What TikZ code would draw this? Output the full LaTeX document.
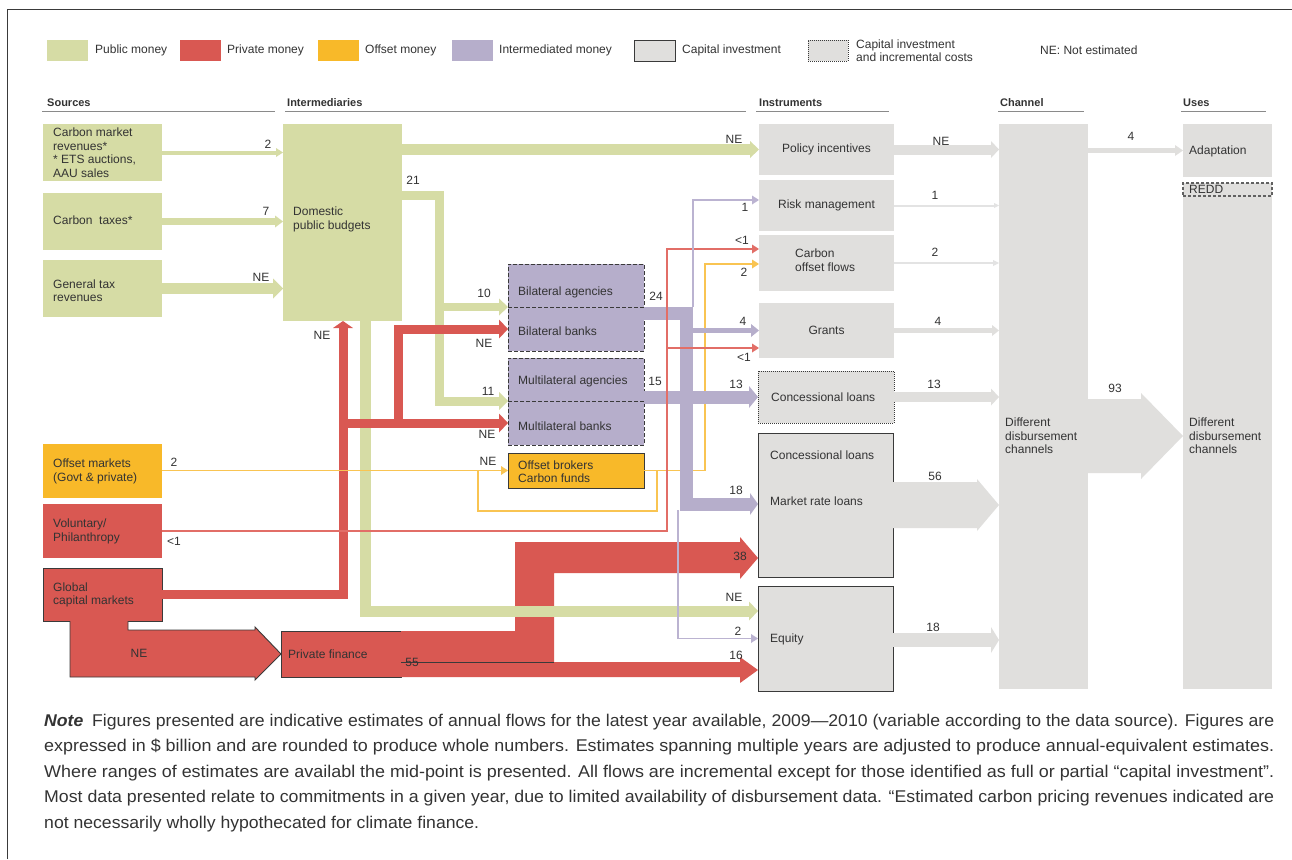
\documentclass[tikz,border=0pt]{standalone}
\usepackage{fontspec}
\setmainfont{Liberation Sans}
\usepackage{graphicx}
\usetikzlibrary{arrows.meta}
\definecolor{cg}{HTML}{D6DCA5}
\definecolor{cr}{HTML}{D95852}
\definecolor{co}{HTML}{F8B929}
\definecolor{cp}{HTML}{B6AECB}
\definecolor{cgr}{HTML}{E0DFDD}
\definecolor{crl}{HTML}{E26E67}
\definecolor{col}{HTML}{F9C452}
\definecolor{cpl}{HTML}{BBB3D1}
\definecolor{cgrl}{HTML}{E3E3E3}
\definecolor{txt}{HTML}{333333}
\definecolor{bd}{HTML}{3A3A3A}
\definecolor{hl}{HTML}{8A8A8A}
\tikzset{
  hd/.style 2 args={-{Triangle[length=#1pt,width=#2pt,line width=0pt]}},
  bx/.style 2 args={anchor=north west, minimum width=#1pt, minimum height=#2pt, inner sep=0pt, outer sep=0pt},
  tl/.style={anchor=west, inner sep=0pt, align=left},
  lb/.style={inner sep=0pt, anchor=center},
  hdr/.style={anchor=base west, inner sep=0pt, font=\fontsize{11pt}{13pt}\selectfont\bfseries},
  hline/.style={draw=hl, line width=1.5pt},
  dsh/.style={draw=bd, line width=0.9pt, dash pattern=on 4pt off 2pt},
  sld/.style={draw=bd, line width=0.9pt},
  notefont/.style={anchor=base west, inner sep=0pt, font=\fontsize{17pt}{20pt}\selectfont},
}
\begin{document}
\begin{tikzpicture}[x=1pt,y=-1pt, every node/.style={font=\fontsize{12pt}{13.5pt}\selectfont, text=txt}]
\useasboundingbox (0,0) rectangle (1292,859);
\fill[white] (0,0) rectangle (1292,859);
\draw[bd, line width=1pt] (7,859) -- (7,10) -- (1292,10);

% legend
\node[bx={41}{21}, fill=cg] (lgpub) at (47,40) {};
\node[tl] (lgpubt) at (95,50.5) {Public money};
\node[bx={41}{21}, fill=cr] (lgpri) at (180,40) {};
\node[tl] (lgprit) at (227,50.5) {Private money};
\node[bx={41}{21}, fill=co] (lgoff) at (318,40) {};
\node[tl] (lgofft) at (365,50.5) {Offset money};
\node[bx={41}{21}, fill=cp] (lgint) at (452,40) {};
\node[tl] (lgintt) at (499,50.5) {Intermediated money};
\node[bx={41}{21}, fill=cgr, sld] (lgcap) at (634,40) {};
\node[tl] (lgcapt) at (682,50.5) {Capital investment};
\node[bx={40}{21}, fill=cgr, draw=bd, line width=0.8pt, dash pattern=on 1pt off 1pt] (lginc) at (808,40) {};
\node[tl] (lginct) at (856,50.5) {Capital investment\\and incremental costs};
\node[tl] (lgne) at (1040,50.5) {NE: Not estimated};

% headers
\node[hdr] (hsrc) at (47,106) {Sources};
\node[hdr] (hint) at (287,106) {Intermediaries};
\node[hdr] (hins) at (759,106) {Instruments};
\node[hdr] (hchn) at (1000,106) {Channel};
\node[hdr] (huse) at (1183,106) {Uses};
\draw[hline] (42,111.5) -- (275,111.5);
\draw[hline] (285,111.5) -- (746,111.5);
\draw[hline] (756,111.5) -- (889,111.5);
\draw[hline] (998,111.5) -- (1084,111.5);
\draw[hline] (1181,111.5) -- (1266,111.5);

% boxes
\node[bx={119}{57}, fill=cg] (cmr) at (43,124) {};
\node[bx={119}{57}, fill=cg] (ctx) at (43,193) {};
\node[bx={119}{57}, fill=cg] (gtr) at (43,260) {};
\node[bx={119}{197}, fill=cg] (dpb) at (283,124) {};
\node[bx={119}{54}, fill=co] (omk) at (43,444) {};
\node[bx={119}{54}, fill=cr] (vol) at (43,504) {};
\node[bx={119}{53}, fill=cr, sld] (gcm) at (43,568) {};
\node[bx={120}{46}, fill=cr, sld] (pfn) at (281,631) {};
\node[bx={136}{43}, fill=cp, dsh] (bag) at (508,264) {};
\node[bx={136}{44}, fill=cp, dsh] (bbk) at (508,307) {};
\node[bx={136}{43}, fill=cp, dsh] (mag) at (508,358) {};
\node[bx={136}{44}, fill=cp, dsh] (mbk) at (508,401) {};
\node[bx={136}{35}, fill=co, sld] (obr) at (508,453) {};
\node[bx={135}{51}, fill=cgr] (pol) at (759,124) {};
\node[bx={135}{51}, fill=cgr] (rsk) at (759,180) {};
\node[bx={135}{56}, fill=cgr] (cof) at (759,235) {};
\node[bx={135}{55}, fill=cgr] (grt) at (759,303) {};
\node[bx={136}{52}, fill=cgr, draw=bd, line width=0.8pt, dash pattern=on 1pt off 1pt] (cln) at (758,371) {};
\node[bx={135}{144}, fill=cgr, sld] (mrl) at (758,433) {};
\node[bx={135}{105}, fill=cgr, sld] (eqt) at (758,586) {};
\node[bx={89}{565}, fill=cgr] (chn) at (999,124) {};
\node[bx={89}{53}, fill=cgr] (adp) at (1183,124) {};
\node[bx={89}{506}, fill=cgr] (use) at (1183,183) {};
\node[bx={89}{13}, draw=bd!80, line width=1.1pt, dash pattern=on 3pt off 2pt] (redd) at (1183,183) {};

% private finance big red flows
\fill[cr] (pfn.north east) -- (515,631) -- (515,542) -- (740,542) -- (740,537) -- (mrl.west |- 0,558) -- (740,579) -- (740,573) -- (554,573) -- (554,662) -- (pfn.east |- 0,662) -- cycle;
\fill[cr] (pfn.east |- 0,662) -- (740,662) -- (740,657) -- (eqt.west |- 0,670) -- (740,683) -- (740,677) -- (pfn.south east) -- cycle;
\draw[bd, line width=0.9pt] (pfn.east |- 0,662) -- (554,662);
\filldraw[fill=cr, draw=bd, line width=0.9pt] (gcm.south -| 128,0) -- (128,630) -- (255,630) -- (255,627) -- (pfn.west) -- (255,680) -- (255,677) -- (70,677) -- (gcm.south -| 70,0);

% green flows
\draw[cg, line width=4pt, hd={7}{9}] (cmr.east) -- (cmr.east -| dpb.west);
\draw[cg, line width=7pt, hd={8}{12}] (ctx.east) -- (ctx.east -| dpb.west);
\draw[cg, line width=11pt, hd={10}{20}] (gtr.east) -- (gtr.east -| dpb.west);
\draw[cg, line width=11pt, hd={9}{17}] (dpb.east |- pol.west) -- (pol.west);
\draw[cg, line width=9pt, hd={9}{18}] (dpb.east |- 0,195) -| (439,401) -- (mag.south west);
\draw[cg, line width=8pt, hd={9}{17}] (bag.south west -| 439,0) -- (bag.south west);
\draw[cg, line width=11pt, hd={9}{19}] (dpb.south -| 365,0) |- (eqt.west |- 0,611);

% red thick flows
\draw[cr, line width=9pt, hd={7}{20}] (gcm.east) -| (dpb.south -| 343,0);
\draw[cr, line width=9pt, hd={9}{19}] (mbk.west -| 343,0) -- (mbk.west);
\draw[cr, line width=9pt, hd={9}{19}] (398,427.5) |- (bbk.west);

% orange thin flows
\draw[col, line width=1.5pt, hd={7}{9}] (omk.east |- obr.west) -- (obr.west);
\draw[col, line width=1.5pt] (478,470.5) -- (478,511) -- (657,511) -- (657,470.5);
\draw[col, line width=1.5pt, hd={7}{9}] (obr.east) -- (705,470.5) |- (cof.west |- 0,264);

% purple thick flows
\draw[cp, line width=13pt, hd={8}{22}] (bbk.east |- 0,313) -| (686,504) -- (mrl.west |- 0,504);
\draw[cp, line width=5pt, hd={8}{13}] (grt.west -| 686,0) -- (grt.west);
\draw[cp, line width=13pt, hd={9}{22}] (mag.east |- cln.west) -- (cln.west);

% red thin flows
\draw[crl, line width=1.5pt, hd={7}{9}] (vol.east) -- (667,531) |- (cof.west |- 0,249);
\draw[crl, line width=1.5pt, hd={7}{9}] (667,348) -- (grt.west |- 0,348);

% purple thin flows
\draw[cpl, line width=1.5pt, hd={7}{9}] (693,307) |- (rsk.west |- 0,200);
\draw[cpl, line width=1.5pt, hd={7}{9}] (678,510) |- (eqt.west);

% gray outputs
\draw[cgr, line width=10pt, hd={8}{17}] (pol.east) -- (pol.east -| chn.west);
\draw[cgrl, line width=2pt, hd={5}{5}] (rsk.east) -- (rsk.east -| chn.west);
\draw[cgrl, line width=2.5pt, hd={6}{6}] (cof.east) -- (cof.east -| chn.west);
\draw[cgr, line width=5pt, hd={7}{11}] (grt.east) -- (grt.east -| chn.west);
\draw[cgr, line width=10pt, hd={8}{17}] (cln.east) -- (cln.east -| chn.west);
\fill[cgr] (mrl.east |- 0,482) -- (977,482) -- (977,479) -- (mrl.east -| chn.west) -- (977,531) -- (977,528) -- (mrl.east |- 0,528) -- cycle;
\draw[cgr, line width=14pt, hd={8}{26}] (eqt.east |- 0,640) -- (chn.west |- 0,640);
\draw[cgr, line width=5pt, hd={8}{11}] (chn.east |- adp.west) -- (adp.west);
\fill[cgr] (chn.east |- 0,399) -- (1141,399) -- (1141,393) -- (use.west |- 0,436) -- (1141,479) -- (1141,473) -- (chn.east |- 0,473) -- cycle;

% box texts
\node[tl] (cmrT) at (53,152.5) {Carbon market\\revenues*\\* ETS auctions,\\AAU sales};
\node[tl] (ctxT) at (53,220) {Carbon~~taxes*};
\node[tl] (gtrT) at (53,290.5) {General tax\\revenues};
\node[tl] (dpbT) at (293,219.5) {Domestic\\public budgets};
\node[tl] (omkT) at (53,471.5) {Offset markets\\(Govt \& private)};
\node[tl] (volT) at (53,531.5) {Voluntary/\\Philanthropy};
\node[tl] (gcmT) at (53,595) {Global\\capital markets};
\node[tl] (pfnT) at (288,654) {Private finance};
\node[tl] (bagT) at (518,292) {Bilateral agencies};
\node[tl] (bbkT) at (518,331) {Bilateral banks};
\node[tl] (magT) at (518,381) {Multilateral agencies};
\node[tl] (mbkT) at (518,426) {Multilateral banks};
\node[tl] (obrT) at (518,471.5) {Offset brokers\\Carbon funds};
\node[lb] (polT) at (826.5,149) {Policy incentives};
\node[lb] (rskT) at (826.5,205) {Risk management};
\node[tl] (cofT) at (795,260) {Carbon\\offset flows};
\node[lb] (grtT) at (826.5,330) {Grants};
\node[tl] (clnT) at (771,397) {Concessional loans};
\node[tl] (mrlT1) at (770,455) {Concessional loans};
\node[tl] (mrlT2) at (770,501) {Market rate loans};
\node[tl] (eqtT) at (770,639) {Equity};
\node[tl] (chnT) at (1005,436) {Different\\disbursement\\channels};
\node[tl] (adpT) at (1189,151) {Adaptation};
\node[tl] (reddT) at (1189,189.5) {REDD};
\node[tl] (useT) at (1189,436) {Different\\disbursement\\channels};

% flow labels
\node[lb] (l1) at (268,144) {2};
\node[lb] (l2) at (266,211) {7};
\node[lb] (l3) at (261,277) {NE};
\node[lb] (l4) at (734,139) {NE};
\node[lb] (l5) at (413,180) {21};
\node[lb] (l6) at (484,293) {10};
\node[lb] (l7) at (488,391) {11};
\node[lb] (l8) at (322,335) {NE};
\node[lb] (l9) at (484,343) {NE};
\node[lb] (l10) at (487,434) {NE};
\node[lb] (l11) at (488,461) {NE};
\node[lb] (l12) at (174,462) {2};
\node[lb] (l13) at (174,541) {<1};
\node[lb] (l14) at (656,296) {24};
\node[lb] (l15) at (655,381) {15};
\node[lb] (l16) at (745,207) {1};
\node[lb] (l17) at (742,240) {<1};
\node[lb] (l18) at (744,272) {2};
\node[lb] (l19) at (743,321) {4};
\node[lb] (l20) at (744,357) {<1};
\node[lb] (l21) at (736,384) {13};
\node[lb] (l22) at (736,490) {18};
\node[lb] (l23) at (740,556) {38};
\node[lb] (l24) at (734,597) {NE};
\node[lb] (l25) at (738,631) {2};
\node[lb] (l26) at (736,655) {16};
\node[lb] (l27) at (412,662) {55};
\node[lb] (l28) at (139,653) {NE};
\node[lb] (g1) at (941,141) {NE};
\node[lb] (g2) at (935,195) {1};
\node[lb] (g3) at (935,252) {2};
\node[lb] (g4) at (938,321) {4};
\node[lb] (g5) at (934,384) {13};
\node[lb] (g6) at (935,476) {56};
\node[lb] (g7) at (933,627) {18};
\node[lb] (g8) at (1131,136) {4};
\node[lb] (g9) at (1115,388) {93};

% note
\node[notefont] (n1) at (44,726) {\resizebox{1230pt}{\height}{\textbf{\textit{Note}}\hspace{0.5em}Figures presented are indicative estimates of annual flows for the latest year available, 2009—2010 (variable according to the data source). Figures are}};
\node[notefont] (n2) at (44,751.5) {\resizebox{1230pt}{\height}{expressed in \$ billion and are rounded to produce whole numbers. Estimates spanning multiple years are adjusted to produce annual-equivalent estimates.}};
\node[notefont] (n3) at (44,777) {\resizebox{1230pt}{\height}{Where ranges of estimates are availabl the mid-point is presented. All flows are incremental except for those identified as full or partial “capital investment”.}};
\node[notefont] (n4) at (44,802.5) {\resizebox{1230pt}{\height}{Most data presented relate to commitments in a given year, due to limited availability of disbursement data. “Estimated carbon pricing revenues indicated are}};
\node[notefont] (n5) at (44,828) {\resizebox{435pt}{\height}{not necessarily wholly hypothecated for climate finance.}};
\end{tikzpicture}
\end{document}
